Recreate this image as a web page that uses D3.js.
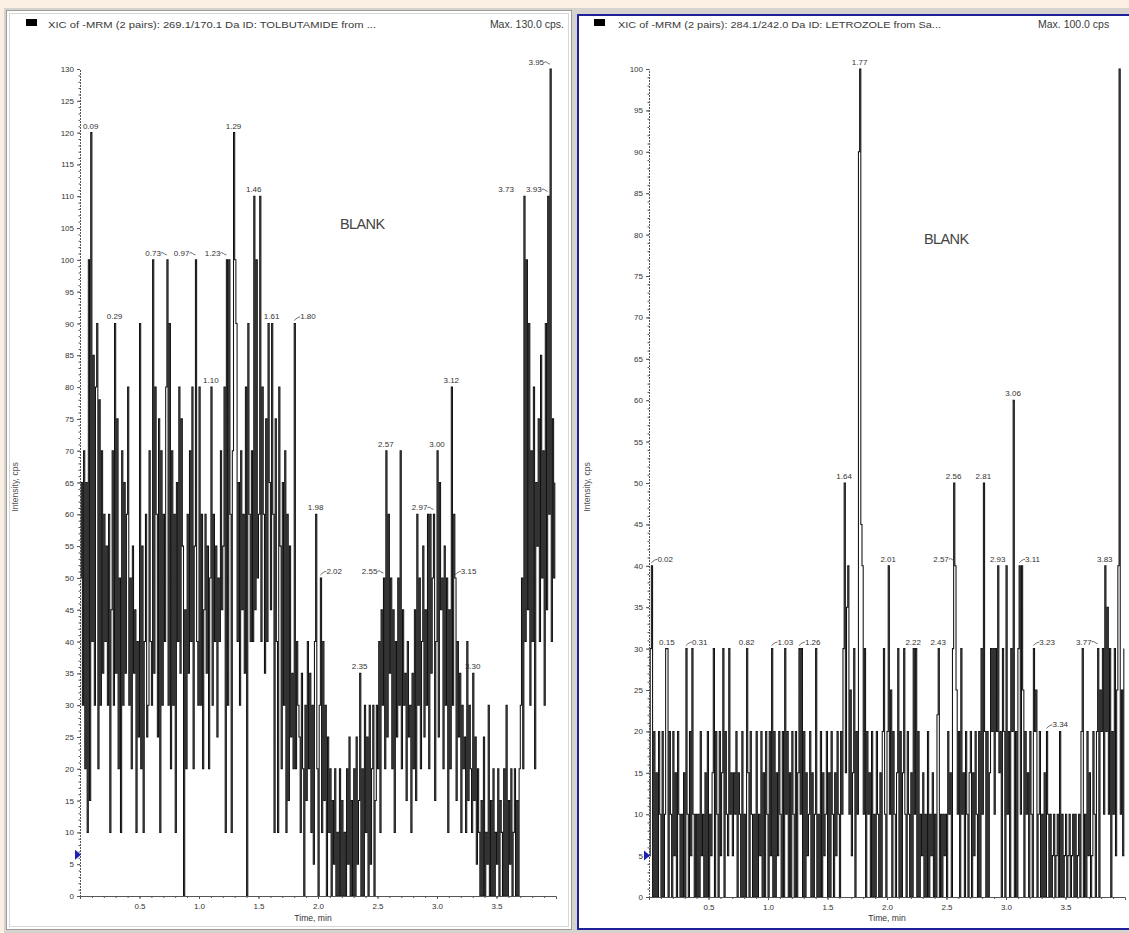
<!DOCTYPE html>
<html><head><meta charset="utf-8">
<script src="https://cdn.jsdelivr.net/npm/d3@7/dist/d3.min.js"></script>
<style>body{margin:0;background:#fcefe4;overflow:hidden}svg{display:block}</style>
</head><body>
<svg id="c" width="1129" height="933"></svg>
<script>
// ---- data (intensity in cps, one scan every 0.01 min from 0.00 to 3.99 min) ----
const timeStep = 0.01;
const tolbutamideValues = [
 50,65,30,70,20,65,10,100,15,120,
 40,85,30,80,90,20,78,30,70,35,
 60,40,55,30,60,10,45,70,30,90,
 35,75,20,50,10,70,30,65,35,60,
 80,30,50,20,55,35,45,10,40,25,
 90,20,55,10,40,60,25,30,70,40,
 30,100,35,80,60,25,75,10,70,30,
 60,40,80,100,30,90,20,70,30,60,
 10,65,40,80,35,75,55,0,45,20,
 60,35,70,40,80,20,55,100,40,30,
 80,30,60,20,45,60,35,55,20,50,
 80,30,60,40,55,25,50,40,70,45,
 55,80,10,100,30,100,60,10,70,120,
 100,90,40,65,30,70,45,60,35,80,
 0,90,60,40,70,40,110,45,100,50,
 60,110,40,80,60,35,75,40,90,65,
 45,90,60,10,75,40,10,80,55,20,
 65,30,70,10,60,15,55,25,35,20,
 90,20,40,30,25,10,35,20,0,30,
 15,40,20,35,10,30,5,40,60,20,
 0,30,50,10,40,15,30,0,25,10,
 20,0,15,5,20,0,10,0,20,0,
 15,0,10,0,20,5,25,0,15,0,
 20,0,25,5,15,35,0,20,0,30,
 10,25,0,30,5,20,30,0,15,30,
 20,40,10,45,30,50,20,70,25,60,
 35,50,20,45,10,40,25,50,30,70,
 20,45,30,35,15,40,25,30,10,35,
 20,45,15,60,30,50,20,40,55,25,
 45,30,60,20,60,35,50,60,15,40,
 70,25,65,45,50,20,55,30,50,10,
 45,20,80,30,60,50,15,40,25,35,
 10,30,20,25,10,40,15,30,20,10,
 35,15,25,5,20,10,0,15,0,25,
 0,10,5,30,0,15,0,20,0,10,
 5,20,0,15,10,0,20,0,30,0,
 15,5,20,0,10,20,0,15,0,20,
 30,50,20,110,40,100,45,90,30,70,
 40,80,20,65,55,75,40,85,50,70,
 30,90,45,110,60,130,40,75,50,65
];
const letrozoleValues = [
 5,30,40,0,20,0,15,0,20,10,
 0,20,0,10,30,30,0,20,10,0,
 20,5,15,0,20,10,0,10,0,15,
 0,30,10,0,20,5,30,10,0,10,
 0,10,0,20,5,10,0,15,0,20,
 0,10,5,15,30,0,20,10,0,20,
 5,15,30,0,20,10,5,30,10,15,
 5,15,10,20,0,15,10,0,20,0,
 10,0,30,15,0,20,10,0,10,0,
 20,0,10,5,20,0,15,0,20,10,
 0,20,5,30,0,20,0,15,5,20,
 10,0,20,0,30,10,20,0,15,0,
 20,10,0,20,0,15,30,10,30,0,
 20,0,15,5,10,20,0,15,0,10,
 30,0,10,0,20,0,15,5,10,20,
 0,15,0,20,10,0,15,5,20,10,
 0,20,10,30,50,15,35,40,10,25,
 5,15,30,0,20,10,90,100,45,40,
 10,30,0,20,10,15,0,20,0,10,
 0,20,10,0,15,0,20,30,10,0,
 20,40,10,25,0,20,10,0,15,30,
 0,20,0,15,30,10,0,20,10,0,
 15,0,30,10,30,0,20,0,10,5,
 15,0,10,0,20,0,10,5,15,0,
 10,0,22,30,0,10,0,10,5,10,
 0,20,10,15,0,30,50,40,25,10,
 20,0,30,10,15,0,20,10,0,15,
 20,0,15,5,20,10,0,20,0,30,
 10,50,20,0,20,0,15,30,20,30,
 10,30,20,40,15,20,0,30,20,0,
 40,10,20,0,30,20,60,0,20,0,
 30,40,10,40,25,0,20,10,15,0,
 20,10,0,30,20,25,0,10,20,0,
 10,0,15,0,20,10,0,10,0,5,
 10,0,5,10,0,20,0,10,0,5,
 10,0,5,10,0,5,10,0,10,0,
 5,10,0,20,30,0,10,0,20,5,
 15,0,5,20,10,0,20,30,0,25,
 20,30,10,40,20,35,10,30,0,20,
 10,30,5,25,40,100,10,25,5,30
];
// peak labels: time, intensity, text, leader side
const tolbutamidePeaks = [
 [0.09,120,"0.09","c"],[0.29,90,"0.29","c"],[0.73,100,"0.73","l"],[0.97,100,"0.97","l"],
 [1.23,100,"1.23","l"],[1.29,120,"1.29","c"],[1.46,110,"1.46","c"],[1.10,80,"1.10","c"],
 [1.61,90,"1.61","c"],[1.80,90,"1.80","r"],[1.98,60,"1.98","c"],[2.02,50,"2.02","r"],
 [2.35,35,"2.35","c"],[2.55,50,"2.55","l"],[2.57,70,"2.57","c"],[2.97,60,"2.97","l"],
 [3.00,70,"3.00","c"],[3.12,80,"3.12","c"],[3.15,50,"3.15","r"],[3.30,35,"3.30","c"],
 [3.73,110,"3.73","n"],[3.93,110,"3.93","l"],[3.95,130,"3.95","l"]
];
const letrozolePeaks = [
 [0.02,40,"0.02","r"],[0.15,30,"0.15","c"],[0.31,30,"0.31","r"],[0.82,30,"0.82","c"],
 [1.03,30,"1.03","r"],[1.26,30,"1.26","r"],[1.64,50,"1.64","c"],[1.77,100,"1.77","c"],
 [2.01,40,"2.01","c"],[2.22,30,"2.22","c"],[2.43,30,"2.43","c"],[2.56,50,"2.56","c"],
 [2.57,40,"2.57","l"],[2.81,50,"2.81","c"],[2.93,40,"2.93","c"],[3.06,60,"3.06","c"],
 [3.11,40,"3.11","r"],[3.23,30,"3.23","r"],[3.34,20,"3.34","r"],[3.77,30,"3.77","l"],
 [3.83,40,"3.83","c"]
];
const xTickValues = [0.5,1.0,1.5,2.0,2.5,3.0,3.5];
const panelsInfo = [
 {title:"XIC of -MRM (2 pairs): 269.1/170.1 Da ID: TOLBUTAMIDE from ...", maxText:"Max. 130.0 cps.", yMax:130, values:tolbutamideValues, peaks:tolbutamidePeaks, note:"BLANK"},
 {title:"XIC of -MRM (2 pairs): 284.1/242.0 Da ID: LETROZOLE from Sa...", maxText:"Max. 100.0 cps", yMax:100, values:letrozoleValues, peaks:letrozolePeaks, note:"BLANK"}
];

// ---- layout ----
const svg = d3.select("#c");
const FONT = "Liberation Sans, Arial, sans-serif";
const layout = [
 {frame:[6.5,10.5,565,919], blue:false, x0:80, yTop:69, yBot:896, sq:26, titleX:48, titleW:328, maxX:564, maxAnchor:"end",
  ylabX:18, timeX:313, noteX:340, noteY:229, markerV:6.5},
 {frame:[578,15,560,914], blue:true, x0:649, yTop:69, yBot:897, sq:594, titleX:618, titleW:323, maxX:1038, maxAnchor:"start",
  ylabX:590, timeX:887, noteX:924, noteY:244, markerV:5}
];

// window chrome
svg.append("rect").attr("x",0).attr("y",0).attr("width",1129).attr("height",933).attr("fill","#fcefe4");
svg.append("rect").attr("x",4).attr("y",8).attr("width",1125).attr("height",925).attr("fill","#d6d3ce");

panelsInfo.forEach((p,i)=>{
  const L = layout[i];
  const g = svg.append("g");
  const [fx,fy,fw,fh] = L.frame;
  g.append("rect").attr("x",fx).attr("y",fy).attr("width",fw).attr("height",fh)
   .attr("fill","#fff").attr("stroke", L.blue ? "#20209a" : "#9c9c9c").attr("stroke-width", L.blue ? 2 : 1);
  if(!L.blue){
    g.append("rect").attr("x",fx+3).attr("y",fy+3).attr("width",fw-6).attr("height",fh-6)
     .attr("fill","none").attr("stroke","#d8d8d8").attr("stroke-width",1);
  }
  // header
  g.append("rect").attr("x",L.sq).attr("y",19).attr("width",11).attr("height",7).attr("fill","#000");
  g.append("text").attr("x",L.titleX).attr("y",28).attr("font-family",FONT).attr("font-size",8.6)
   .attr("fill","#3a3a3a").attr("textLength",L.titleW).attr("lengthAdjust","spacingAndGlyphs").text(p.title);
  g.append("text").attr("x",L.maxX).attr("y",28).attr("text-anchor",L.maxAnchor).attr("font-family",FONT)
   .attr("font-size",10.5).attr("fill","#3a3a3a").text(p.maxText);

  const x = d3.scaleLinear().domain([0,4]).range([L.x0, L.x0+476]);
  const y = d3.scaleLinear().domain([0,p.yMax]).range([L.yBot, L.yTop]);

  // trace (stepped, as the acquisition software draws it)
  const pts = p.values.map((v,k)=>[k*timeStep, v]);
  g.append("path").datum(pts).attr("fill","none").attr("stroke","#111").attr("stroke-width",1.05)
   .attr("d", d3.line().curve(d3.curveStepAfter).x(d=>x(d[0])).y(d=>y(d[1])));

  // y axis
  const ya = g.append("g").attr("transform",`translate(${L.x0},0)`);
  ya.call(d3.axisLeft(y).tickValues(d3.range(0,p.yMax+0.1,5)).tickSize(3).tickPadding(3).tickFormat(d3.format("d")));
  ya.append("g").call(d3.axisLeft(y).tickValues(d3.range(0,p.yMax+0.1,1)).tickSize(1.5).tickFormat(""))
    .select(".domain").remove();
  ya.selectAll(".domain").attr("stroke","#555").attr("stroke-dasharray","2,1");
  ya.selectAll("line").attr("stroke","#555");
  ya.selectAll("text").attr("font-family",FONT).attr("font-size",8).attr("fill","#333");

  // x axis
  const xa = g.append("g").attr("transform",`translate(0,${L.yBot})`);
  xa.call(d3.axisBottom(x).tickValues(xTickValues).tickSize(3).tickPadding(4).tickFormat(d3.format(".1f")));
  xa.append("g").call(d3.axisBottom(x).tickValues(d3.range(0.1,4.0,0.1)).tickSize(2).tickFormat(""))
    .select(".domain").remove();
  xa.selectAll(".domain").attr("stroke","#555");
  xa.selectAll("line").attr("stroke","#555");
  xa.selectAll("text").attr("font-family",FONT).attr("font-size",8).attr("fill","#333");

  // axis titles
  g.append("text").attr("transform",`translate(${L.ylabX},487) rotate(-90)`).attr("text-anchor","middle")
   .attr("font-family",FONT).attr("font-size",8.6).attr("fill","#555").text("Intensity, cps");
  g.append("text").attr("x",L.timeX).attr("y",921).attr("text-anchor","middle")
   .attr("font-family",FONT).attr("font-size",8.6).attr("fill","#333").text("Time, min");

  // BLANK note
  g.append("text").attr("x",L.noteX).attr("y",L.noteY).attr("font-family",FONT).attr("font-size",14.5)
   .attr("fill","#444").attr("letter-spacing",-0.6).text(p.note);

  // marker triangle
  const my = y(L.markerV);
  g.append("path").attr("d",`M${L.x0-5},${my-5}L${L.x0+1},${my}L${L.x0-5},${my+5}Z`).attr("fill","#1f1fb4");

  // peak labels
  p.peaks.forEach(([t,v,txt,side])=>{
    const px = x(t), by = y(v) - 4;
    let tx = px, anchor = "middle";
    if(side==="l"){ tx = px-6; anchor="end";
      g.append("path").attr("d",`M${px-6},${by-2.5}q1.5,-1.5 3,0t3,1.5`).attr("fill","none").attr("stroke","#444").attr("stroke-width",0.8);
    } else if(side==="r"){ tx = px+6; anchor="start";
      g.append("path").attr("d",`M${px},${by+1}q1.5,-1.5 3,-2.5t3,-1`).attr("fill","none").attr("stroke","#444").attr("stroke-width",0.8);
    } else if(side==="n"){ tx = px-10; anchor="end"; }
    g.append("text").attr("x",tx).attr("y",by).attr("text-anchor",anchor).attr("font-family",FONT)
     .attr("font-size",8).attr("fill","#333").text(txt);
  });
});
</script>
</body></html>
